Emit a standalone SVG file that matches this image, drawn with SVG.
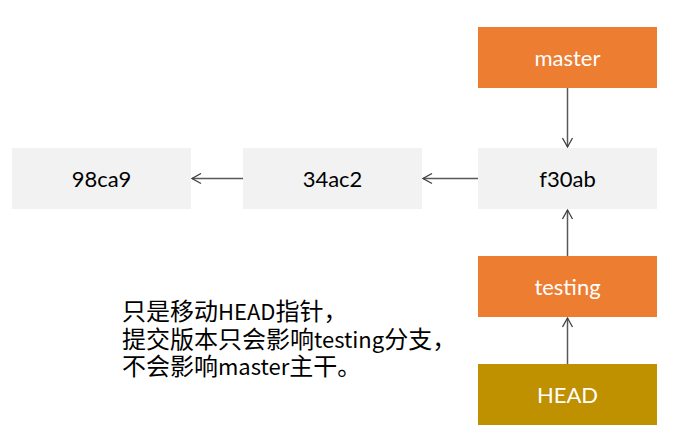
<svg xmlns="http://www.w3.org/2000/svg" width="697" height="432" viewBox="0 0 697 432">
<defs>
<marker id="arr" markerWidth="12" markerHeight="12" refX="10" refY="6" orient="auto" markerUnits="userSpaceOnUse">
<path d="M1,1 L10,6 L1,11" fill="none" stroke="#404040" stroke-width="1.3"/>
</marker>
</defs>
<style>
.commit{fill:#F2F2F2}
.branch{fill:#ED7D31}
.head{fill:#BF9000}
.lbl{font-family:Lato,"Open Sans","Noto Sans",sans-serif;font-size:22px;text-anchor:middle;dominant-baseline:central}
.dark{fill:#000}
.light{fill:#fff}
.conn{stroke:#595959;stroke-width:1.5;fill:none;marker-end:url(#arr)}
.note{font-family:"Noto Sans CJK SC","Noto Sans",sans-serif;font-size:24px;fill:#000}
.lat{font-size:22px}
</style>
<rect width="697" height="432" fill="#fff"/>
<g id="connectors">
<line class="conn" x1="243" y1="178.5" x2="192" y2="178.5"/>
<line class="conn" x1="478" y1="178.5" x2="423" y2="178.5"/>
<line class="conn" x1="567.5" y1="88" x2="567.5" y2="147"/>
<line class="conn" x1="567.5" y1="256" x2="567.5" y2="210"/>
<line class="conn" x1="567.5" y1="364" x2="567.5" y2="318"/>
</g>
<g id="n98ca9"><rect class="commit" x="12" y="148" width="179" height="61"/><text class="lbl dark" x="101.5" y="178.5">98ca9</text></g>
<g id="n34ac2"><rect class="commit" x="243" y="148" width="179" height="61"/><text class="lbl dark" x="332.5" y="178.5">34ac2</text></g>
<g id="nf30ab"><rect class="commit" x="478" y="148" width="179" height="61"/><text class="lbl dark" x="567.5" y="178.5">f30ab</text></g>
<g id="master"><rect class="branch" x="478" y="27" width="179" height="61"/><text class="lbl light" x="567.5" y="57.5">master</text></g>
<g id="testing"><rect class="branch" x="478" y="256" width="179" height="61"/><text class="lbl light" x="567.5" y="286.5">testing</text></g>
<g id="HEAD"><rect class="head" x="478" y="364" width="179" height="61"/><text class="lbl light" x="567.5" y="394.5">HEAD</text></g>
<g id="note">
<text class="note"><tspan x="122" y="320">只是移动<tspan class="lat">HEAD</tspan>指针，</tspan><tspan x="122" y="348">提交版本只会影响<tspan class="lat">testing</tspan>分支，</tspan><tspan x="122" y="375">不会影响<tspan class="lat">master</tspan>主干。</tspan></text>
</g>
</svg>
